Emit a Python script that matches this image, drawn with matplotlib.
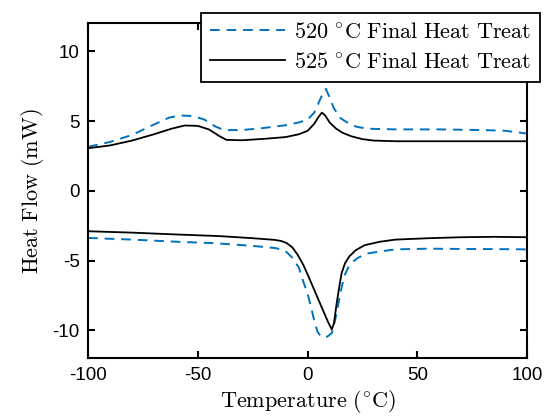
'''
  - DSC heat flow curves for two final heat treat temperatures.
'''

from matplotlib import pyplot as plt

plt.rcParams['mathtext.fontset'] = 'cm'
plt.rcParams['font.family'] = ['Liberation Sans', 'DejaVu Sans']

LABEL_520 = r'$520\ ^{\circ}\mathrm{C\ Final\ Heat\ Treat}$'
LABEL_525 = r'$525\ ^{\circ}\mathrm{C\ Final\ Heat\ Treat}$'

# 520 C, heating (upper) branch
t_520_up = [-100, -90, -80, -70, -63, -58, -52, -47, -42, -38, -30, -20, -10, -4, 0,
            3, 5, 7, 8.3, 10, 12, 15, 18, 22, 27, 40, 60, 80, 90, 100]
hf_520_up = [3.15, 3.5, 4.0, 4.75, 5.25, 5.4, 5.35, 5.1, 4.6, 4.35, 4.35, 4.5, 4.7, 4.9, 5.1,
             5.6, 6.3, 7.0, 7.3, 6.7, 5.9, 5.2, 4.9, 4.6, 4.45, 4.4, 4.4, 4.35, 4.3, 4.1]

# 520 C, cooling (lower) branch
t_520_dn = [-100, -80, -60, -42, -25, -15, -12, -9.5, -7, -4, -2, 0, 1.5, 3, 4.5, 6, 7.5, 9,
            11, 12, 13.2, 14.5, 15.5, 17, 18.5, 20.5, 23, 27, 33, 40, 55, 70, 85, 100]
hf_520_dn = [-3.38, -3.5, -3.65, -3.76, -3.95, -4.1, -4.2, -4.4, -4.8, -5.5, -6.5, -7.4, -8.3,
             -9.3, -10.1, -10.45, -10.5, -10.45, -10.2, -9.6, -8.8, -7.7, -6.9, -6.0,
             -5.5, -5.1, -4.8, -4.5, -4.35, -4.2, -4.15, -4.17, -4.18, -4.2]

# 525 C, heating (upper) branch
t_525_up = [-100, -90, -80, -70, -62, -56, -50, -45, -40, -37, -30, -20, -10, -4, 0,
            3, 5, 6.5, 8, 10, 13, 16, 20, 25, 30, 40, 60, 80, 100]
hf_525_up = [3.05, 3.25, 3.6, 4.05, 4.45, 4.68, 4.65, 4.4, 3.9, 3.65, 3.62, 3.72, 3.85,
             4.05, 4.3, 4.8, 5.3, 5.6, 5.4, 4.9, 4.45, 4.15, 3.9, 3.7, 3.6, 3.55, 3.55,
             3.55, 3.55]

# 525 C, cooling (lower) branch
t_525_dn = [-100, -80, -60, -40, -25, -15, -12, -9.5, -7, -4.5, -2, 0, 3, 6, 9, 11, 12, 13.2,
            14.5, 15.5, 17, 19, 22, 26, 33, 40, 55, 70, 85, 100]
hf_525_dn = [-2.9, -3.0, -3.13, -3.25, -3.4, -3.52, -3.6, -3.75, -4.05, -4.6, -5.3, -6.0,
             -7.1, -8.2, -9.3, -9.95, -9.5, -8.1, -6.8, -5.9, -5.2, -4.7, -4.25, -3.9,
             -3.65, -3.5, -3.4, -3.33, -3.3, -3.33]

BLUE = '#0072BD'

fig = plt.figure(figsize=(5.44, 4.17), dpi=100)
ax = fig.add_axes([0.162, 0.141, 0.807, 0.803])

ax.plot(t_520_up, hf_520_up, '--', color=BLUE, lw=1.4, dashes=(5, 3.5), label=LABEL_520)
ax.plot(t_525_up, hf_525_up, '-', color='black', lw=1.3, label=LABEL_525)
ax.plot(t_520_dn, hf_520_dn, '--', color=BLUE, lw=1.4, dashes=(5, 3.5))
ax.plot(t_525_dn, hf_525_dn, '-', color='black', lw=1.3)

ax.set_xlim([-100, 100])
ax.set_ylim([-12, 12])
ax.set_xticks([-100, -50, 0, 50, 100])
ax.set_yticks([-10, -5, 0, 5, 10])
ax.set_xticklabels(['-100', '-50', '0', '50', '100'])
ax.set_yticklabels(['-10', '-5', '0', '5', '10'])
ax.tick_params(direction='in', top=True, right=True, length=5, width=1.5,
               labelsize=13.5, pad=6)
for s in ax.spines.values():
    s.set_linewidth(1.5)

ax.set_xlabel(r'$\mathrm{Temperature\ (^{\circ}C)}$', fontsize=16, labelpad=3)
ax.set_ylabel(r'$\mathrm{Heat\ Flow\ (mW)}$', fontsize=16, labelpad=5)

leg = ax.legend(loc='upper right', bbox_to_anchor=(1.03, 1.03), borderaxespad=0,
                fontsize=16, fancybox=False, framealpha=1, edgecolor='black',
                handlelength=3.4, borderpad=0.4, labelspacing=0.4, handletextpad=0.4)
leg.get_frame().set_linewidth(1.3)

plt.savefig('out.png')
